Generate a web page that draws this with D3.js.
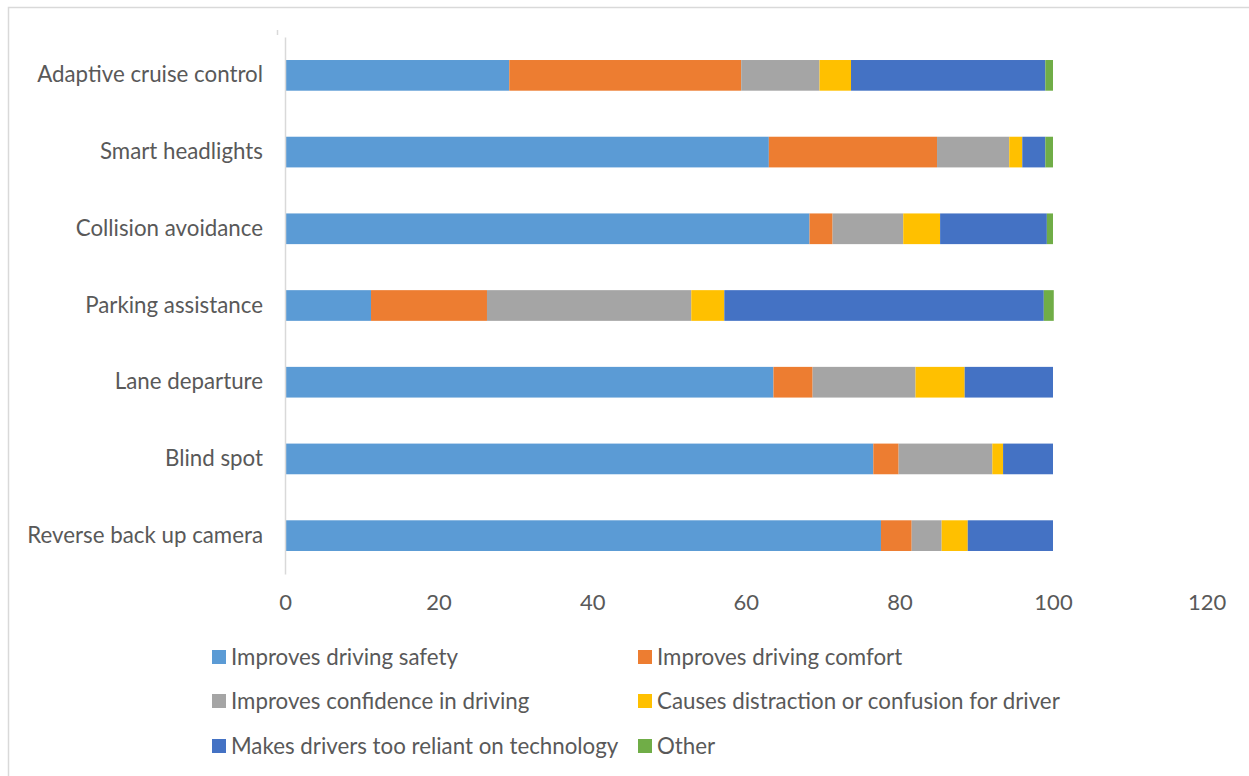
<!DOCTYPE html>
<html>
<head>
<meta charset="utf-8">
<script src="https://cdn.jsdelivr.net/npm/d3@7"></script>
<style>
  body { margin: 0; background: #fff; }
  svg text { font-family: Lato, "Open Sans", sans-serif; fill: #595959; }
</style>
</head>
<body>
<svg id="chart" width="1249" height="776"></svg>
<script>
// categories, top to bottom
const categories = ["Adaptive cruise control", "Smart headlights", "Collision avoidance",
    "Parking assistance", "Lane departure", "Blind spot", "Reverse back up camera"];

const seriesNames = ["Improves driving safety", "Improves driving comfort", "Improves confidence in driving",
    "Causes distraction or confusion for driver", "Makes drivers too reliant on technology", "Other"];
const colors = ["#5b9bd5", "#ed7d31", "#a5a5a5", "#ffc000", "#4472c4", "#70ad47"];

// one array per series, in category order
const safety     = [29.2, 63.0, 68.3, 11.2, 63.6, 76.6, 77.6];
const comfort    = [30.2, 21.9,  3.0, 15.1,  5.1,  3.3,  4.0];
const confidence = [10.2,  9.4,  9.2, 26.6, 13.4, 12.2,  3.9];
const distract   = [ 4.1,  1.7,  4.8,  4.3,  6.4,  1.4,  3.4];
const reliant    = [25.3,  3.0, 13.9, 41.6, 11.5,  6.5, 11.1];
const other      = [ 1.0,  1.0,  0.8,  1.3,  0.0,  0.0,  0.0];

const xTicks = [0, 20, 40, 60, 80, 100, 120];

const values = [safety, comfort, confidence, distract, reliant, other];
const table = categories.map((c, i) => {
    const row = { category: c };
    seriesNames.forEach((s, j) => row[s] = values[j][i]);
    return row;
});

const svg = d3.select("#chart");

// chart frame (chart area border)
svg.append("rect")
    .attr("x", 8.5).attr("y", 7.5)
    .attr("width", 1300).attr("height", 900)
    .attr("fill", "none")
    .attr("stroke", "#d9d9d9")
    .attr("stroke-width", 1.5);

// Scales
const xScale = d3.scaleLinear().domain([0, 120]).range([285, 1206.6]);
const yScale = d3.scaleBand().domain(categories).range([37, 574])
    .paddingInner(0.6).paddingOuter(0.3);

const stack = d3.stack().keys(seriesNames)(table);

// Bars
svg.append("g")
    .selectAll("g")
    .data(stack)
    .enter()
    .append("g")
    .attr("fill", (d, i) => colors[i])
    .selectAll("rect")
    .data(d => d)
    .enter()
    .append("rect")
    .attr("x", d => xScale(d[0]))
    .attr("y", d => yScale(d.data.category))
    .attr("width", d => xScale(d[1]) - xScale(d[0]))
    .attr("height", yScale.bandwidth());

// Category axis
const yAxis = d3.axisLeft(yScale).tickSize(0).tickPadding(22);
const yG = svg.append("g")
    .attr("transform", "translate(285,0)")
    .call(yAxis);
yG.select(".domain").attr("stroke", "#d9d9d9").attr("stroke-width", 1.5);
yG.selectAll("text").style("font-size", "22.3px").attr("fill", "#595959");

// small stray mark above the axis
svg.append("line")
    .attr("x1", 277.5).attr("x2", 277.5)
    .attr("y1", 30).attr("y2", 35)
    .attr("stroke", "#d9d9d9").attr("stroke-width", 1.5);

// Value axis (labels only)
const xAxis = d3.axisBottom(xScale).tickValues(xTicks).tickSize(0).tickPadding(0);
const xG = svg.append("g")
    .attr("transform", "translate(0,594)")
    .call(xAxis);
xG.select(".domain").remove();
xG.selectAll("text").style("font-size", "22px").attr("fill", "#595959");

// Legend
const legendPos = [[212, 657], [638, 657], [212, 701], [638, 701], [212, 746], [638, 746]];
const legend = svg.append("g")
    .selectAll("g")
    .data(seriesNames)
    .enter()
    .append("g")
    .attr("transform", (d, i) => "translate(" + legendPos[i][0] + "," + legendPos[i][1] + ")");

legend.append("rect")
    .attr("x", 0).attr("y", -7)
    .attr("width", 14).attr("height", 14)
    .attr("fill", (d, i) => colors[i]);

legend.append("text")
    .attr("x", 19)
    .attr("dy", "0.35em")
    .style("font-size", "22.3px")
    .text(d => d);
</script>
</body>
</html>
